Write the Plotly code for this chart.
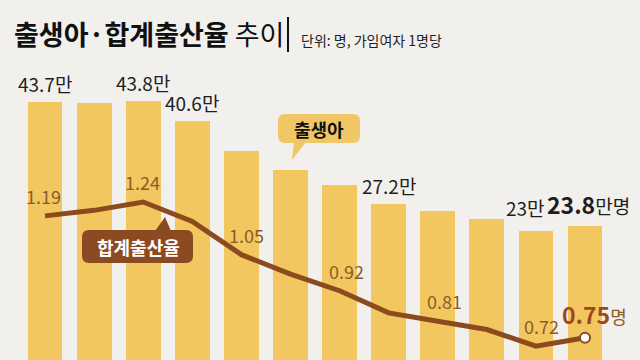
import plotly.graph_objects as go

# ---- data ----
years = list(range(2013, 2025))
births = [43.7, 43.5, 43.8, 40.6, 35.8, 32.7, 30.3, 27.2, 26.1, 24.9, 23.0, 23.8]  # 만 명
tfr = [1.19, 1.21, 1.24, 1.17, 1.05, 0.98, 0.92, 0.84, 0.81, 0.78, 0.72, 0.75]
birth_labels = ["43.7만", "", "43.8만", "40.6만", "", "", "", "27.2만", "", "", "23만",
                "<span style='font-size:23px'><b>23.8</b></span>만명"]
tfr_labels = ["1.19", "", "1.24", "", "1.05", "", "0.92", "", "0.81", "", "0.72",
              "<span style='font-size:23px;color:#9C4A1C'><b>0.75</b></span>명"]

# ---- style ----
BG = "#F2F0ED"
BAR = "#F3C75F"
LINE = "#8C4A1F"
NUM_FONT = "Noto Sans CJK KR, sans-serif"
KR_FONT = "Noto Sans CJK KR, sans-serif"
W, H = 640, 360

fig = go.Figure()
fig.add_trace(go.Bar(x=years, y=births, marker=dict(color=BAR, line=dict(width=0)),
                     width=0.71, hoverinfo="skip"))
fig.add_trace(go.Scatter(x=years, y=tfr, yaxis="y2", mode="lines",
                         line=dict(color=LINE, width=5), hoverinfo="skip"))
fig.add_trace(go.Scatter(x=[years[-1]], y=[tfr[-1]], yaxis="y2", mode="markers",
                         marker=dict(size=10, color="white", line=dict(color=LINE, width=2)),
                         hoverinfo="skip"))

ann = []
# births labels
b_xshift = {10: -10, 11: 3}
b_yshift = {10: 3 + (births[11] - births[10]) * 6.23, 11: 3}
for i, t in enumerate(birth_labels):
    if not t:
        continue
    ann.append(dict(x=years[i], y=births[i], xref="x", yref="y", text=t, showarrow=False,
                    yanchor="bottom", xanchor="center",
                    xshift=b_xshift.get(i, 0), yshift=b_yshift.get(i, 3),
                    font=dict(family=NUM_FONT, size=19, color="#1E1E1E")))
# tfr labels
t_xshift = [-2, 0, -1, 0, 5, 0, 7, 0, 7, 0, 6, 9]
for i, t in enumerate(tfr_labels):
    if not t:
        continue
    ann.append(dict(x=years[i], y=tfr[i], xref="x", yref="y2", text=t, showarrow=False,
                    yanchor="bottom", xanchor="center", xshift=t_xshift[i], yshift=5,
                    font=dict(family=NUM_FONT, size=18, color="#8A5C26")))

def px(x, y):
    return x / W, 1 - y / H

# title
ann.append(dict(x=px(12, 0)[0], y=px(0, 33)[1], xref="paper", yref="paper",
                text="<b>출생아·합계출산율</b> 추이", showarrow=False,
                xanchor="left", yanchor="middle",
                font=dict(family=KR_FONT, size=27, color="#111111")))
ann.append(dict(x=px(299, 0)[0], y=px(0, 40)[1], xref="paper", yref="paper",
                text="단위: 명, 가임여자 1명당", showarrow=False,
                xanchor="left", yanchor="middle",
                font=dict(family=KR_FONT, size=14, color="#222222")))
# callout texts
ann.append(dict(x=px(319, 0)[0], y=px(0, 129)[1], xref="paper", yref="paper",
                text="<b>출생아</b>", showarrow=False, xanchor="center", yanchor="middle",
                font=dict(family=KR_FONT, size=18, color="#111111")))
ann.append(dict(x=px(138, 0)[0], y=px(0, 247)[1], xref="paper", yref="paper",
                text="<b>합계출산율</b>", showarrow=False, xanchor="center", yanchor="middle",
                font=dict(family=KR_FONT, size=18, color="#FFFFFF")))


def rounded_box(x0, y0, x1, y1, r, tri):
    """path in paper coords from pixel coords; tri = list of 3 pixel points"""
    def P(x, y):
        a, b = px(x, y)
        return f"{a:.5f},{b:.5f}"
    d = (f"M{P(x0 + r, y0)} L{P(x1 - r, y0)} Q{P(x1, y0)} {P(x1, y0 + r)} "
         f"L{P(x1, y1 - r)} Q{P(x1, y1)} {P(x1 - r, y1)} "
         f"L{P(x0 + r, y1)} Q{P(x0, y1)} {P(x0, y1 - r)} "
         f"L{P(x0, y0 + r)} Q{P(x0, y0)} {P(x0 + r, y0)} Z")
    t = f"M{P(*tri[0])} L{P(*tri[1])} L{P(*tri[2])} Z"
    return d, t

shapes = []
d, t = rounded_box(278, 114, 360, 143, 7, [(294, 142), (306, 142), (292, 160)])
for p in (d, t):
    shapes.append(dict(type="path", path=p, xref="paper", yref="paper",
                       fillcolor="#F0C766", line=dict(width=0), layer="above"))
d, t = rounded_box(82, 230, 193, 263, 7, [(155, 231), (171, 231), (165, 217)])
for p in (d, t):
    shapes.append(dict(type="path", path=p, xref="paper", yref="paper",
                       fillcolor="#8C4A22", line=dict(width=0), layer="above"))
# title separator
shapes.append(dict(type="line", x0=px(288, 0)[0], x1=px(288, 0)[0],
                   y0=px(0, 17)[1], y1=px(0, 52)[1], xref="paper", yref="paper",
                   line=dict(color="#111111", width=2)))

fig.update_layout(
    width=W, height=H, margin=dict(l=0, r=0, t=0, b=0),
    paper_bgcolor=BG, plot_bgcolor=BG, showlegend=False, bargap=0,
    xaxis=dict(range=[2013 - 0.917, 2013 + 12.12], visible=False, fixedrange=True),
    yaxis=dict(range=[2.25, 60.0], visible=False, fixedrange=True),
    yaxis2=dict(range=[0.670, 1.969], overlaying="y", visible=False, fixedrange=True),
    annotations=ann, shapes=shapes,
)

fig.write_html("out.html", config={"displayModeBar": False},
               post_script="document.body.style.margin='0';document.body.style.overflow='hidden';")
